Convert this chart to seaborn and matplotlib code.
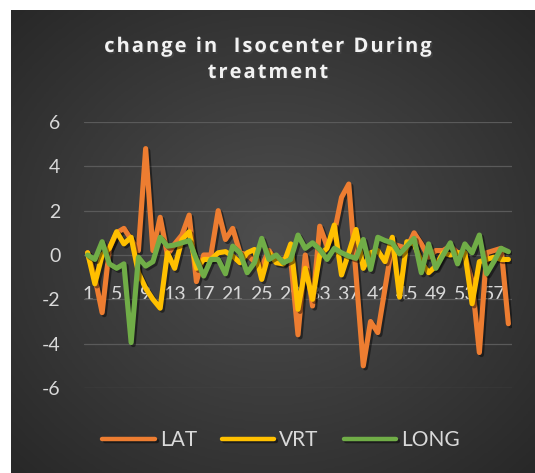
import numpy as np
import pandas as pd
import seaborn as sns
import matplotlib
matplotlib.use("Agg")
import matplotlib.pyplot as plt
import matplotlib.patheffects as pe
from matplotlib.colors import LinearSegmentedColormap

# values (59 treatment points)
lat = [0.1, -1.0, -2.6, 0.3, 1.0, 1.2, 0.7, 0.2, 4.8, 0.2,
       1.7, 0.0, 0.5, 0.9, 1.8, -1.2, 0.0, 0.0, 2.0, 0.7,
       1.2, 0.1, 0.0, -0.3, -0.5, 0.2, -0.3, -0.2, -0.2, -3.6,
       0.0, -2.3, 1.3, 0.4, 1.0, 2.6, 3.2, -0.9, -5.0, -3.0,
       -3.5, -1.5, 0.5, 0.4, 0.3, 1.0, 0.5, -0.1, 0.2, 0.2,
       0.4, 0.1, 0.0, -1.2, -4.4, 0.1, 0.2, 0.3, -3.1]
vrt = [0.1, -1.3, 0.0, 0.3, 1.05, 0.5, 0.8, -0.8, -1.5, -2.0,
       -2.4, 0.1, -0.6, 0.7, 1.05, -0.6, -0.2, -0.2, 0.1, 0.15,
       -0.05, -0.35, 0.1, 0.25, -1.1, 0.1, -0.35, -0.4, 0.5, -2.45,
       -0.6, -2.0, 0.0, 0.3, 1.35, -0.9, 0.1, 1.15, -0.6, 0.1,
       0.2, -0.3, 0.8, -1.9, 0.6, 0.5, -0.3, -0.8, -0.5, 0.1,
       0.0, 0.1, 0.1, -2.2, -0.3, -0.2, -0.1, -0.2, -0.2]
long_ = [0.0, -0.2, 0.6, -0.4, -0.6, -0.4, -3.95, -0.1, -0.5, -0.3,
         0.8, 0.4, 0.45, 0.55, 0.65, -0.2, -0.95, -0.2, -0.2, -0.85,
         0.4, 0.1, -0.8, -0.35, 0.75, -0.2, 0.0, -0.35, -0.2, 0.9,
         0.3, 0.55, 0.25, -0.2, 0.3, 0.1, -0.05, -0.15, 0.7, -0.65,
         0.8, 0.65, 0.55, 0.05, 0.4, 0.75, -0.8, 0.5, -0.6, 0.0,
         0.55, -0.4, 0.5, 0.1, 0.9, -0.85, -0.3, 0.3, 0.15]
series = ["LAT", "VRT", "LONG"]
colors = ["#ED7D31", "#FFC000", "#70AD47"]
x_ticks = list(range(1, 58, 4))
y_ticks = [-6, -4, -2, 0, 2, 4, 6]
title = "change in  Isocenter During\ntreatment"

points = np.arange(1, len(lat) + 1)
df = pd.DataFrame({
    "point": np.tile(points, 3),
    "value": lat + vrt + long_,
    "series": np.repeat(series, len(points)),
})

sns.set_theme(style="white")
plt.rcParams["font.family"] = ["Lato", "DejaVu Sans"]

W, H = 535, 473
fig = plt.figure(figsize=(W / 100, H / 100), dpi=100, facecolor="white")

# dark radial gradient chart background
bg = fig.add_axes([11 / W, 0, 1 - 11 / W, 1 - 10 / H])
bg.axis("off")
yy, xx = np.mgrid[-1:1:300j, -1:1:300j]
r = np.sqrt(xx ** 2 + yy ** 2) / np.sqrt(2)
cmap = LinearSegmentedColormap.from_list("bg", ["#4e4e4e", "#3b3b3b", "#282828"])
bg.imshow(r, cmap=cmap, aspect="auto", extent=(0, 1, 0, 1))

ax = fig.add_axes([84 / W, 1 - 388 / H, 428 / W, 266 / H])
ax.patch.set_alpha(0)

sns.lineplot(data=df, x="point", y="value", hue="series", hue_order=series,
             palette=colors, linewidth=3.7, ax=ax)
for ln in ax.lines:
    ln.set_solid_joinstyle("round")
    ln.set_solid_capstyle("round")
    ln.set_path_effects([pe.SimpleLineShadow(offset=(1.5, -1.5), shadow_color="black", alpha=0.45),
                         pe.Normal()])

ax.set_xlim(0.5, len(points) + 0.5)
ax.set_ylim(-6, 6)
ax.set_yticks(y_ticks)
ax.set_yticklabels([str(t) for t in y_ticks])
ax.set_xticks(x_ticks)
ax.set_xticklabels([str(t) for t in x_ticks])
ax.set_xlabel("")
ax.set_ylabel("")
for s in ax.spines.values():
    s.set_visible(False)
ax.spines["bottom"].set_position(("data", 0))
ax.grid(axis="y", color="#5a5a5a", linewidth=0.9)
ax.grid(axis="x", visible=False)
ax.set_axisbelow(True)
ax.tick_params(axis="x", length=0, pad=22, labelsize=14, labelcolor="#d9d9d9")
ax.tick_params(axis="y", length=0, pad=17, labelsize=14, labelcolor="#d9d9d9")

handles, labels = ax.get_legend_handles_labels()
ax.legend_.remove()
leg = fig.legend(handles, labels, loc="center", bbox_to_anchor=(281 / W, 1 - 440 / H),
                 ncol=3, frameon=False, fontsize=15, handlelength=2.5,
                 handletextpad=0.25, columnspacing=1.2, labelcolor="#d9d9d9")
for h in leg.get_lines():
    h.set_linewidth(3.2)
    h.set_solid_capstyle("round")

spaced = "\n".join("\u200a".join(line) for line in title.split("\n"))
fig.text(268 / W, 1 - 60 / H, spaced, ha="center", va="center", fontsize=14.5,
         fontweight="bold", color="#f2f2f2", linespacing=1.4,
         family=["Open Sans", "DejaVu Sans"],
         path_effects=[pe.SimplePatchShadow(offset=(1.2, -1.2), alpha=0.6), pe.Normal()])

fig.savefig("out.png", dpi=100, facecolor="white")
